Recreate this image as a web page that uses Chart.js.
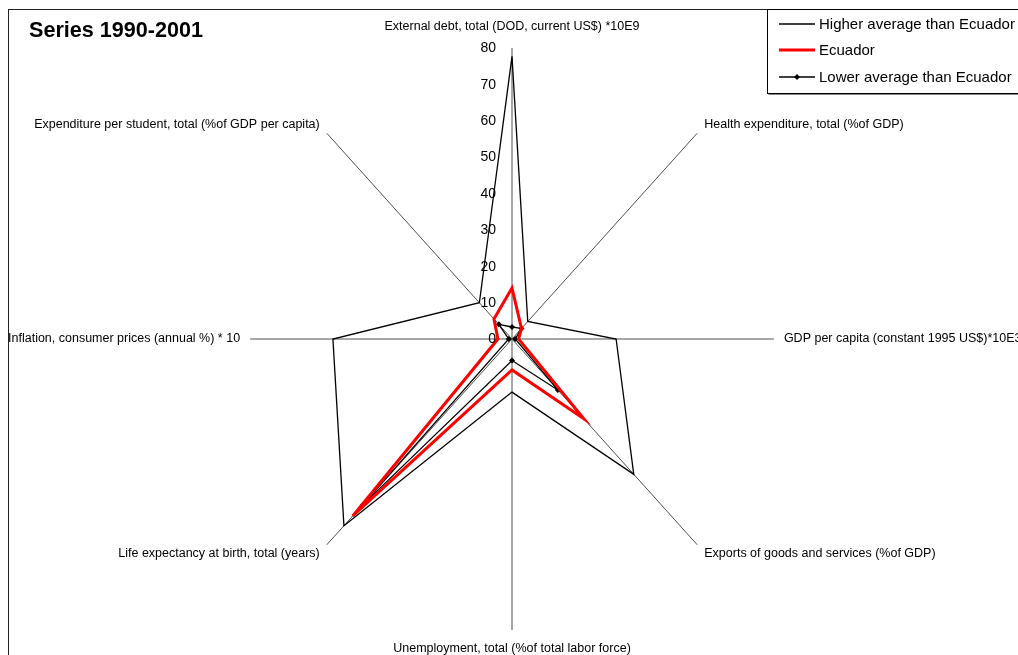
<!DOCTYPE html>
<html>
<head>
<meta charset="utf-8">
<script src="https://cdn.jsdelivr.net/npm/chart.js@4/dist/chart.umd.min.js"></script>
<style>
  html, body { margin: 0; padding: 0; background: #fff; }
  #wrap { position: relative; width: 1018px; height: 655px; }
</style>
</head>
<body>
<div id="wrap"><canvas id="myChart"></canvas></div>
<script>
const axisLabels = [
  "External debt, total (DOD, current US$) *10E9",
  "Health expenditure, total (%of GDP)",
  "GDP per capita (constant 1995 US$)*10E3",
  "Exports of goods and services (%of GDP)",
  "Unemployment, total (%of total labor force)",
  "Life expectancy at birth, total (years)",
  "Inflation, consumer prices (annual %) * 10",
  "Expenditure per student, total (%of GDP per capita)",
];
const seriesNames = ["Higher average than Ecuador", "Ecuador", "Lower average than Ecuador"];
const higherAvg = [77.7, 6.8, 31.8, 52.6, 14.6, 72.6, 54.7, 14.1];
const ecuador = [14.0, 4.1, 2.0, 31.0, 8.5, 68.8, 4.3, 7.8];
const lowerAvg = [3.3, 4.1, 1.0, 19.8, 5.9, 64.4, 1.0, 5.7];
const tickMin = 0;
const tickMax = 80;
const tickStep = 10;
const chartTitle = "Series 1990-2001";

// the original plot area is a bit narrower than it is tall
const X_SQUASH = 0.9;

const Base = Chart.RadialLinearScale || Chart.registry.getScale("radialLinear");
class EllipticRadialScale extends Base {
  getPointPosition(index, distance, additionalAngle = 0) {
    const p = super.getPointPosition(index, distance, additionalAngle);
    return { x: this.xCenter + (p.x - this.xCenter) * X_SQUASH, y: p.y, angle: p.angle };
  }
}
EllipticRadialScale.id = "ellipticRadial";
Chart.register(EllipticRadialScale);

const FONT = "'Liberation Sans', Arial, sans-serif";

const decorations = {
  id: "decorations",
  beforeDraw(chart) {
    const ctx = chart.ctx;
    ctx.save();
    ctx.fillStyle = "#ffffff";
    ctx.fillRect(0, 0, chart.width, chart.height);
    ctx.strokeStyle = "#222";
    ctx.lineWidth = 1;
    ctx.strokeRect(8.5, 9.5, chart.width + 20, chart.height + 20);
    ctx.restore();
  },
  afterDraw(chart) {
    const ctx = chart.ctx;
    const scale = chart.scales.r;
    ctx.save();

    // tick labels, left of the vertical axis
    ctx.fillStyle = "#000";
    ctx.font = "14px " + FONT;
    ctx.textAlign = "right";
    ctx.textBaseline = "middle";
    scale.ticks.forEach((t) => {
      const y = scale.yCenter - scale.getDistanceFromCenterForValue(t.value);
      ctx.fillText(String(t.value), scale.xCenter - 16, y + 0.5);
    });

    // axis names
    ctx.font = "12.5px " + FONT;
    axisLabels.forEach((lbl, i) => {
      const ang = scale.getIndexAngle(i) - Math.PI / 2;
      const c = Math.cos(ang), s = Math.sin(ang);
      const end = scale.getPointPosition(i, scale.drawingArea);
      let x = end.x + c * 10;
      let y = end.y + s * 12;
      let align = Math.abs(c) < 0.01 ? "center" : c > 0 ? "left" : "right";
      if (Math.abs(c) < 0.01) {
        y = s < 0 ? end.y - 21 : end.y + 19;
      }
      ctx.textAlign = align;
      ctx.textBaseline = "middle";
      ctx.fillText(lbl, x, y);
    });

    // title
    ctx.font = "bold 21.6px " + FONT;
    ctx.textAlign = "left";
    ctx.textBaseline = "alphabetic";
    ctx.fillText(chartTitle, 29, 37);

    // legend box
    const lx = 767.5, ly = 9.5, lh = 84;
    ctx.fillStyle = "#fff";
    ctx.fillRect(lx, ly, 300, lh);
    ctx.strokeStyle = "#000";
    ctx.lineWidth = 1;
    ctx.strokeRect(lx, ly, 300, lh);
    ctx.strokeStyle = "#888";
    ctx.beginPath();
    ctx.moveTo(lx + 1, ly + lh + 1);
    ctx.lineTo(lx + 300, ly + lh + 1);
    ctx.stroke();

    const rows = [24, 50, 77];
    ctx.font = "15px " + FONT;
    ctx.textBaseline = "middle";
    chart.data.datasets.forEach((ds, i) => {
      const y = rows[i];
      ctx.strokeStyle = ds.borderColor;
      ctx.lineWidth = ds.borderWidth;
      ctx.beginPath();
      ctx.moveTo(779, y);
      ctx.lineTo(815, y);
      ctx.stroke();
      if (ds.pointRadius > 0) {
        ctx.fillStyle = "#000";
        ctx.beginPath();
        ctx.moveTo(797, y - 3);
        ctx.lineTo(800, y);
        ctx.lineTo(797, y + 3);
        ctx.lineTo(794, y);
        ctx.closePath();
        ctx.fill();
      }
      ctx.fillStyle = "#000";
      ctx.textAlign = "left";
      ctx.fillText(ds.label, 819, y + 1);
    });
    ctx.restore();
  },
};

const ctx = document.getElementById("myChart").getContext("2d");
const myChart = new Chart(ctx, {
  type: "radar",
  data: {
    labels: axisLabels,
    datasets: [
      {
        label: seriesNames[0],
        data: higherAvg,
        borderColor: "#000000",
        borderWidth: 1.3,
        pointRadius: 0,
        fill: false,
      },
      {
        label: seriesNames[1],
        data: ecuador,
        borderColor: "#ff0000",
        borderWidth: 3,
        pointRadius: 0,
        fill: false,
      },
      {
        label: seriesNames[2],
        data: lowerAvg,
        borderColor: "#000000",
        borderWidth: 1.3,
        pointRadius: 3,
        pointStyle: "rectRot",
        pointBackgroundColor: "#000000",
        pointBorderColor: "#000000",
        pointBorderWidth: 0,
        fill: false,
      },
    ],
  },
  options: {
    responsive: true,
    maintainAspectRatio: false,
    animation: false,
    layout: {
      padding: { left: 221, right: 215, top: 48, bottom: 25 },
    },
    plugins: {
      legend: { display: false },
      title: { display: false },
      tooltip: { enabled: false },
    },
    elements: {
      line: { tension: 0 },
    },
    scales: {
      r: {
        type: "ellipticRadial",
        min: tickMin,
        max: tickMax,
        ticks: { display: false, stepSize: tickStep },
        grid: { display: false },
        angleLines: { display: true, color: "#505050", lineWidth: 1 },
        pointLabels: { display: false },
      },
    },
  },
  plugins: [decorations],
});
</script>
</body>
</html>
